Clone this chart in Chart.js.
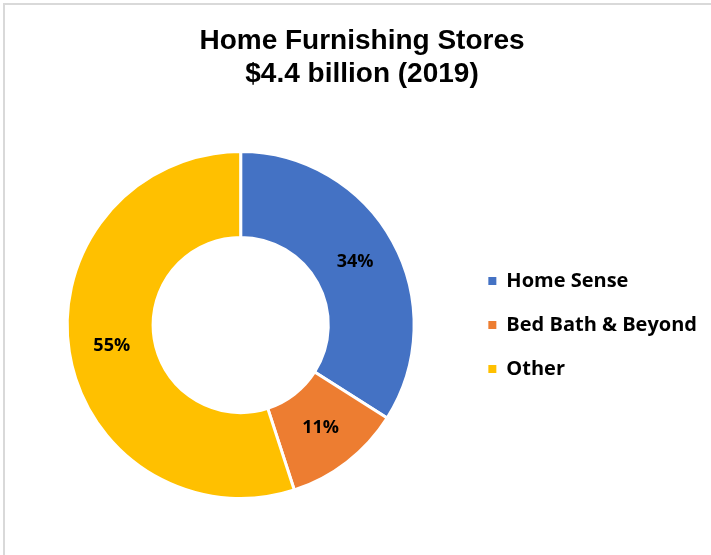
<!DOCTYPE html>
<html>
<head>
<meta charset="utf-8">
<script src="https://cdn.jsdelivr.net/npm/chart.js@4"></script>
<style>
  html, body { margin: 0; padding: 0; background: #fff; overflow: hidden; }
  #frame {
    position: absolute; left: 3px; top: 3px;
    width: 730px; height: 560px;
    border-left: 2px solid #d9d9d9; border-top: 2px solid #d9d9d9;
    background: #fff;
  }
  #wrap { position: absolute; left: 0; top: 0; width: 716px; height: 550px; }
</style>
</head>
<body>
<div id="frame"><div id="wrap"><canvas id="chart-share"></canvas></div></div>
<script>
  const titleLines = ["Home Furnishing Stores", "$4.4 billion (2019)"];
  const stores = ["Home Sense", "Bed Bath & Beyond", "Other"];
  const shares = [34, 11, 55];
  const sliceColors = ["#4472C4", "#ED7D31", "#FFC000"];

  const LABEL_FONT = "'Open Sans', 'Noto Sans', sans-serif";
  const CANVAS_W = 716;
  const ROW_STEP = 44;       // distance between legend rows
  const LEGEND_LEFT = 458;   // where the legend box should begin
  const CONTENT_RIGHT = 702; // keeps the title centred where the original has it

  // pick the legend font size so the legend fills exactly the space to the right
  function legendFontSize() {
    const ctx = document.createElement("canvas").getContext("2d");
    ctx.font = "bold 100px " + LABEL_FONT;
    let w = 0;
    stores.forEach(s => { w = Math.max(w, ctx.measureText(s).width); });
    const k = w / 100;
    // width = pad + box + fs/2 + text + 10, with pad = ROW_STEP - fs, box = 8
    const fs = (CONTENT_RIGHT - LEGEND_LEFT - ROW_STEP - 8 - 10) / (k - 0.5);
    return Math.max(15, Math.min(20, fs));
  }

  const fs = legendFontSize();
  const baseLabels = Chart.overrides.doughnut.plugins.legend.labels.generateLabels;

  const pctLabels = {
    id: "pctLabels",
    afterDatasetsDraw(chart) {
      const ctx = chart.ctx;
      const meta = chart.getDatasetMeta(0);
      ctx.save();
      ctx.font = "bold 18px " + LABEL_FONT;
      ctx.fillStyle = "#000";
      ctx.textAlign = "center";
      ctx.textBaseline = "middle";
      meta.data.forEach((arc, i) => {
        const p = arc.tooltipPosition();
        ctx.fillText(shares[i] + "%", p.x, p.y);
      });
      ctx.restore();
    }
  };

  new Chart(document.getElementById("chart-share"), {
    type: "doughnut",
    data: {
      labels: stores,
      datasets: [{
        data: shares,
        backgroundColor: sliceColors,
        borderColor: "#fff",
        borderWidth: 3,
        hoverOffset: 0
      }]
    },
    options: {
      responsive: true,
      maintainAspectRatio: false,
      animation: false,
      cutout: "50.5%",
      layout: { padding: { left: 12, right: CANVAS_W - CONTENT_RIGHT, top: 0, bottom: 55 } },
      plugins: {
        title: {
          display: true,
          text: titleLines,
          color: "#000",
          font: { family: "'Liberation Sans', Arial, sans-serif", size: 28, weight: "bold", lineHeight: 1.18 },
          padding: { top: 20, bottom: 59 }
        },
        legend: {
          position: "right",
          fullSize: false,
          labels: {
            boxWidth: 8,
            boxHeight: 8,
            padding: ROW_STEP - fs,
            color: "#000",
            font: { family: LABEL_FONT, size: fs, weight: "bold" },
            generateLabels(chart) {
              return baseLabels(chart).map(item => {
                item.lineWidth = 0;
                item.strokeStyle = item.fillStyle;
                return item;
              });
            }
          }
        },
        tooltip: { enabled: false }
      }
    },
    plugins: [pctLabels]
  });
</script>
</body>
</html>
